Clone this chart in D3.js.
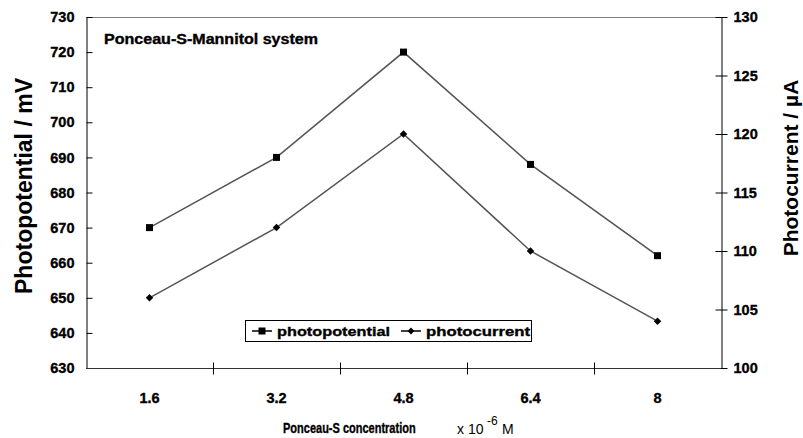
<!DOCTYPE html>
<html>
<head>
<meta charset="utf-8">
<script src="https://cdn.jsdelivr.net/npm/d3@7"></script>
<style>
	body { margin: 0; background: #fff; }
	text { font-family: "Liberation Sans", Arial, sans-serif; }
	.heavy { stroke: #000; stroke-width: 0.35px; }
</style>
</head>
<body>
<svg id="chart" width="803" height="438"></svg>
<script>
// data
var categories = ["1.6", "3.2", "4.8", "6.4", "8"];
var photopotential = [670, 690, 720, 688, 662];   // mV, left axis
var photocurrent = [106, 112, 120, 110, 104];     // uA, right axis
var leftTicks = [630, 640, 650, 660, 670, 680, 690, 700, 710, 720, 730];
var rightTicks = [100, 105, 110, 115, 120, 125, 130];

var LEFT = 86, RIGHT = 721, TOP = 17, BOTTOM = 368;
var svg = d3.select("#chart");

var x = d3.scaleBand().domain(categories).range([LEFT, RIGHT]);
var yL = d3.scaleLinear().domain([630, 730]).range([BOTTOM, TOP]);
var yR = d3.scaleLinear().domain([100, 130]).range([BOTTOM, TOP]);

// plot frame (top border)
svg.append("line")
	.attr("x1", LEFT).attr("x2", RIGHT)
	.attr("y1", TOP + 0.5).attr("y2", TOP + 0.5)
	.attr("stroke", "#808080").attr("stroke-width", 1);

// left axis
var gL = svg.append("g").attr("transform", "translate(" + (LEFT + 0.5) + ",0)")
	.call(d3.axisLeft(yL).tickValues(leftTicks).tickSizeInner(6).tickSizeOuter(0).tickPadding(6));
gL.selectAll(".tick line").attr("x2", 6);

// right axis
var gR = svg.append("g").attr("transform", "translate(" + (RIGHT + 0.5) + ",0)")
	.call(d3.axisRight(yR).tickValues(rightTicks).tickSizeInner(6).tickSizeOuter(0).tickPadding(6));
gR.selectAll(".tick line").attr("x2", -6).attr("x1", 6);

// bottom axis - ticks on category borders
var gB = svg.append("g").attr("transform", "translate(0," + (BOTTOM + 0.5) + ")");
gB.append("line")
	.attr("x1", LEFT).attr("x2", RIGHT)
	.attr("stroke", "#333");
gB.selectAll(".xtick")
	.data(categories.slice(1))
	.enter()
	.append("line")
	.attr("x1", function(d) { return Math.round(x(d)) + 0.5; })
	.attr("x2", function(d) { return Math.round(x(d)) + 0.5; })
	.attr("y1", -6).attr("y2", 6)
	.attr("stroke", "#000");
gB.selectAll(".xlabel")
	.data(categories)
	.enter()
	.append("text")
	.classed("heavy", true)
	.attr("x", function(d) { return x(d) + x.bandwidth() / 2; })
	.attr("y", 34)
	.attr("text-anchor", "middle")
	.attr("font-size", 14.5)
	.attr("font-weight", "bold")
	.text(function(d) { return d; });

[gL, gR].forEach(function(g) {
	g.select(".domain").attr("stroke", "#000");
	g.selectAll(".tick line").attr("stroke", "#000");
	g.selectAll(".tick text")
		.classed("heavy", true)
		.attr("font-size", 14.5)
		.attr("font-weight", "bold")
		.attr("font-family", "Liberation Sans, Arial, sans-serif")
		.attr("fill", "#000");
});

var cx = function(d, i) { return x(categories[i]) + x.bandwidth() / 2; };

// photopotential line + squares
svg.append("path")
	.datum(photopotential)
	.attr("fill", "none")
	.attr("stroke", "#555")
	.attr("stroke-width", 1.5)
	.attr("d", d3.line().x(cx).y(function(d) { return yL(d); }));
svg.selectAll(".sq")
	.data(photopotential)
	.enter()
	.append("rect")
	.attr("x", function(d, i) { return cx(d, i) - 3.5; })
	.attr("y", function(d) { return yL(d) - 3.5; })
	.attr("width", 7).attr("height", 7)
	.attr("fill", "#000");

// photocurrent line + diamonds
svg.append("path")
	.datum(photocurrent)
	.attr("fill", "none")
	.attr("stroke", "#555")
	.attr("stroke-width", 1.5)
	.attr("d", d3.line().x(cx).y(function(d) { return yR(d); }));
svg.selectAll(".dm")
	.data(photocurrent)
	.enter()
	.append("path")
	.attr("d", d3.symbol().type(d3.symbolDiamond2).size(36))
	.attr("transform", function(d, i) { return "translate(" + cx(d, i) + "," + yR(d) + ")"; })
	.attr("fill", "#000");

// inner title
svg.append("text")
	.classed("heavy", true)
	.attr("x", 104).attr("y", 44)
	.attr("font-size", 14).attr("font-weight", "bold")
	.attr("textLength", 214).attr("lengthAdjust", "spacingAndGlyphs")
	.text("Ponceau-S-Mannitol system");

// legend
var leg = svg.append("g").attr("transform", "translate(245,320)");
leg.append("rect")
	.attr("x", 0.5).attr("y", 0.5)
	.attr("width", 286).attr("height", 21)
	.attr("fill", "#fff").attr("stroke", "#000");
var items = [
	{ name: "photopotential", x: 7, w: 113, sym: "sq" },
	{ name: "photocurrent", x: 156, w: 104, sym: "dm" }
];
var li = leg.selectAll(".li").data(items).enter().append("g")
	.attr("transform", function(d) { return "translate(" + d.x + ",11)"; });
li.append("line").attr("x1", 0).attr("x2", 20).attr("stroke", "#000").attr("stroke-width", 1.5);
li.filter(function(d) { return d.sym == "sq"; }).append("rect")
	.attr("x", 6.5).attr("y", -3.5).attr("width", 7).attr("height", 7).attr("fill", "#000");
li.filter(function(d) { return d.sym == "dm"; }).append("path")
	.attr("d", d3.symbol().type(d3.symbolDiamond2).size(30))
	.attr("transform", "translate(10,0)").attr("fill", "#000");
li.append("text")
	.classed("heavy", true)
	.attr("x", 25).attr("y", 5)
	.attr("font-size", 13.5).attr("font-weight", "bold")
	.attr("textLength", function(d) { return d.w; }).attr("lengthAdjust", "spacingAndGlyphs")
	.text(function(d) { return d.name; });

// axis titles
svg.append("text")
	.attr("transform", "translate(32,186) rotate(-90)")
	.attr("text-anchor", "middle")
	.attr("font-size", 23).attr("font-weight", "bold")
	.text("Photopotential / mV");
svg.append("text")
	.attr("transform", "translate(798,168) rotate(-90)")
	.attr("text-anchor", "middle")
	.attr("font-size", 21).attr("font-weight", "bold")
	.text("Photocurrent / \u00b5A");

// condensed x title: squeezed horizontally with a scale
svg.append("text")
	.classed("heavy", true)
	.attr("transform", "translate(283,433) scale(0.71,1)")
	.attr("font-size", 15.5).attr("font-weight", "bold")
	.text("Ponceau-S concentration");
// unit: x 10^-6 M, pieces placed side by side
svg.append("text")
	.attr("x", 457).attr("y", 434)
	.attr("font-size", 14)
	.text("x 10");
svg.append("text")
	.attr("x", 487).attr("y", 425)
	.attr("font-size", 12)
	.text("-6");
svg.append("text")
	.attr("x", 502).attr("y", 434)
	.attr("font-size", 14)
	.text("M");
</script>
</body>
</html>
